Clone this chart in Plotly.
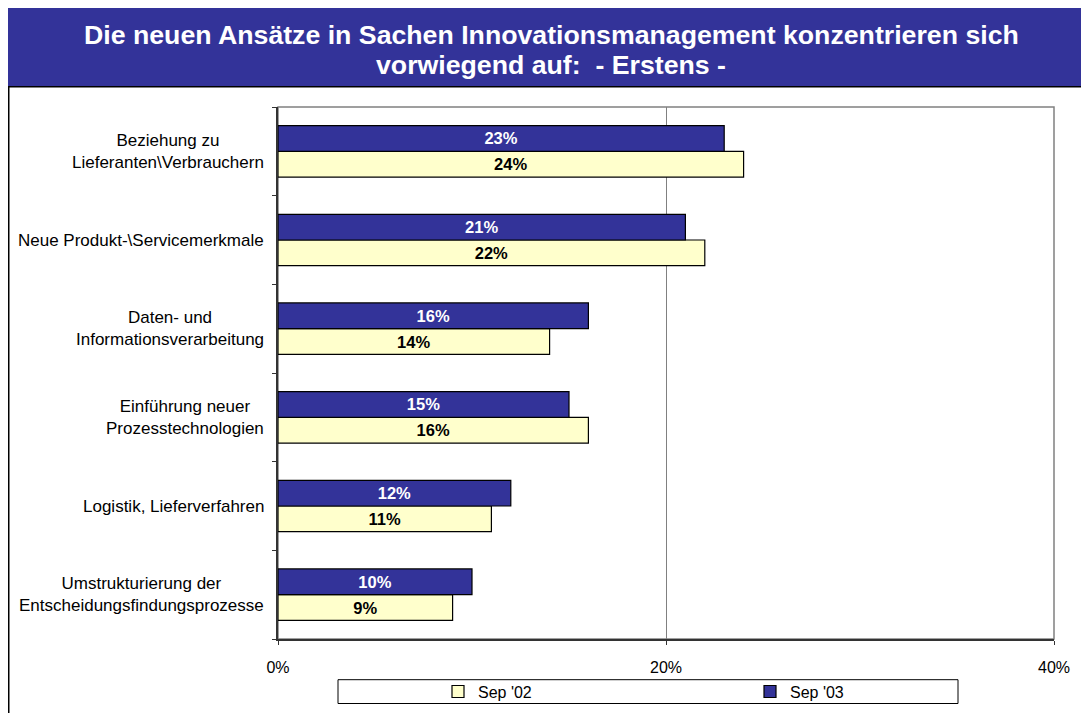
import plotly.graph_objects as go

# categories listed top to bottom as in the chart
categories = [
    "Beziehung zu<br>Lieferanten\\Verbrauchern",
    "Neue Produkt-\\Servicemerkmale",
    "Daten- und<br>Informationsverarbeitung",
    "Einführung neuer<br>Prozesstechnologien",
    "Logistik, Lieferverfahren",
    "Umstrukturierung der<br>Entscheidungsfindungsprozesse",
]
sep02 = [24, 22, 14, 16, 11, 9]
sep03 = [23, 21, 16, 15, 12, 10]
x_ticks = [0, 20, 40]
x_tick_labels = ["0%", "20%", "40%"]
title_lines = [
    "Die neuen Ansätze in Sachen Innovationsmanagement konzentrieren sich",
    "vorwiegend auf:  - Erstens -",
]

FONT = "Liberation Sans, Arial, sans-serif"
W, H = 1089, 713
L, R, T, B = 270, 1046, 99, 635  # plot area in canvas pixels

def px(xp):
    return (xp - L) / (R - L)

def py(yp):
    return (B - yp) / (B - T)

cat_ids = [f"c{i}" for i in range(len(categories))]
order_bottom_up = cat_ids[::-1]

fig = go.Figure()
fig.add_trace(go.Bar(
    name="Sep '02", y=cat_ids, x=sep02, orientation="h",
    marker=dict(color="#FFFFCC", line=dict(color="#000000", width=1.2)),
    text=[f"{v}%" for v in sep02], textposition="inside", insidetextanchor="middle",
    textfont=dict(family=FONT, size=16.5, color="#000000", weight="bold"),
    textangle=0,
))
fig.add_trace(go.Bar(
    name="Sep '03", y=cat_ids, x=sep03, orientation="h",
    marker=dict(color="#333399", line=dict(color="#000000", width=1.2)),
    text=[f"{v}%" for v in sep03], textposition="inside", insidetextanchor="middle",
    textfont=dict(family=FONT, size=16.5, color="#FFFFFF", weight="bold"),
    textangle=0,
))

shapes = [
    # title band
    dict(type="rect", xref="paper", yref="paper", x0=px(-2), x1=px(1095), y0=py(78), y1=py(-2),
         fillcolor="#333399", line=dict(width=0), layer="below"),
    # outer border lines
    dict(type="line", xref="paper", yref="paper", x0=px(0), x1=px(1095), y0=py(78.5), y1=py(78.5),
         line=dict(color="#000000", width=1.5)),
    dict(type="line", xref="paper", yref="paper", x0=px(0.75), x1=px(0.75), y0=py(78), y1=py(720),
         line=dict(color="#000000", width=1.5)),
    # plot area border
    dict(type="rect", xref="paper", yref="paper", x0=0, x1=1, y0=0, y1=1,
         line=dict(color="#808080", width=1.5), layer="below"),
    # legend box
    dict(type="rect", xref="paper", yref="paper", x0=px(330), x1=px(950), y0=py(700), y1=py(676),
         line=dict(color="#000000", width=1), fillcolor="#FFFFFF", layer="below"),
]

annotations = []
for line_text, ycan in zip(title_lines, [26, 57]):
    annotations.append(dict(
        text=f"<b>{line_text}</b>", xref="paper", yref="paper", x=px(543), y=py(ycan),
        xanchor="center", yanchor="middle", showarrow=False,
        font=dict(family=FONT, size=26.7, color="#FFFFFF"),
    ))
for cid, label in zip(cat_ids, categories):
    annotations.append(dict(
        text=label, xref="paper", yref="y", x=px(258), y=cid, xanchor="right", yanchor="middle",
        showarrow=False, align="center", font=dict(family=FONT, size=17, color="#000000"),
    ))

fig.update_layout(
    width=W, height=H,
    margin=dict(l=L, r=W - R, t=T, b=H - B, pad=0),
    paper_bgcolor="#FFFFFF", plot_bgcolor="#FFFFFF",
    barmode="group", bargap=0.42, bargroupgap=0,
    font=dict(family=FONT, size=16, color="#000000"),
    showlegend=True,
    legend=dict(orientation="h", x=px(430), y=py(688), xanchor="left", yanchor="middle",
                entrywidth=267, entrywidthmode="pixels", bgcolor="rgba(0,0,0,0)",
                font=dict(family=FONT, size=16, color="#000000"), traceorder="normal",
                itemclick=False),
    xaxis=dict(range=[0, 40], tickvals=x_ticks, ticktext=x_tick_labels,
               showgrid=True, gridcolor="#808080", gridwidth=1,
               showline=True, linecolor="#333333", linewidth=1.5,
               ticks="outside", ticklen=4, tickcolor="#333333",
               ticklabelstandoff=9, zeroline=False,
               tickfont=dict(family=FONT, size=16, color="#000000"), fixedrange=True),
    yaxis=dict(categoryorder="array", categoryarray=order_bottom_up, type="category",
               showticklabels=False, showgrid=False,
               showline=True, linecolor="#333333", linewidth=1.5,
               ticks="outside", ticklen=4, tickcolor="#333333", tickson="boundaries",
               fixedrange=True),
    shapes=shapes, annotations=annotations,
)

fig.write_html("out.html")
